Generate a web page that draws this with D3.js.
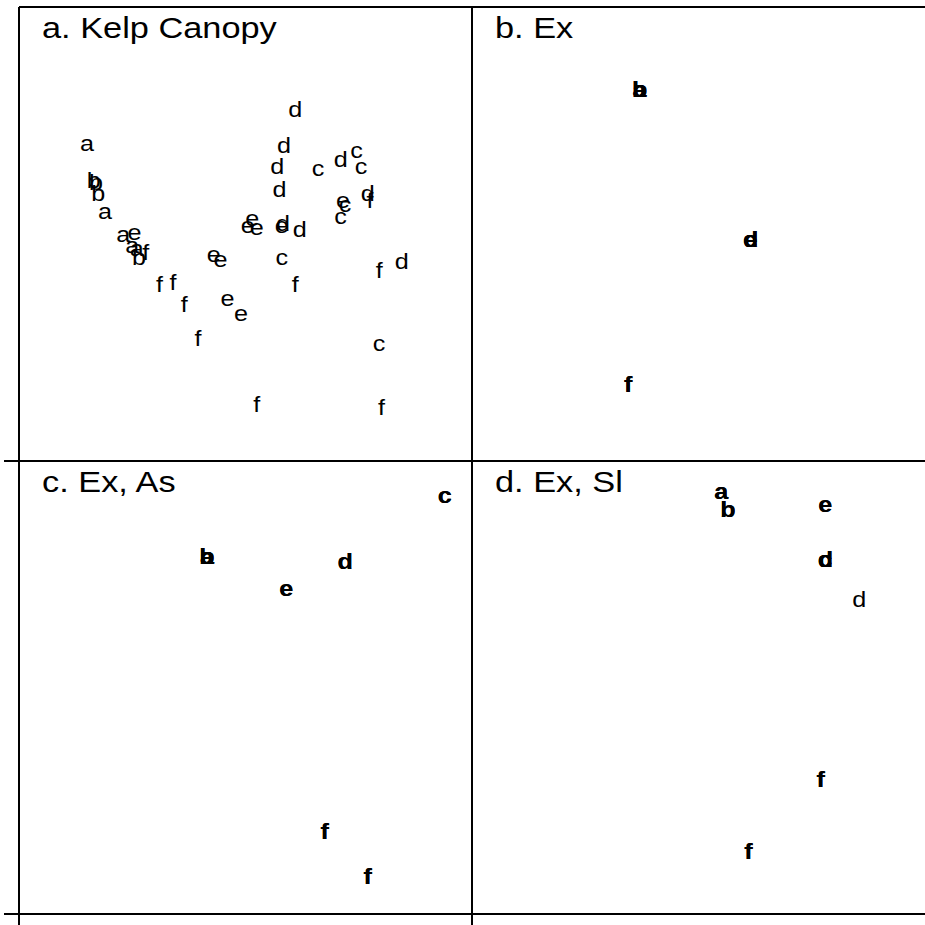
<!DOCTYPE html>
<html>
<head>
<meta charset="utf-8">
<script src="https://cdn.jsdelivr.net/npm/d3@7"></script>
<style>
  body { margin: 0; background: white; }
  svg { display: block; }
</style>
</head>
<body>
<div id="container"></div>
<script>
const width = 925;
const height = 925;

// panel titles
const panelTitles = ["a. Kelp Canopy", "b. Ex", "c. Ex, As", "d. Ex, Sl"];

// panel a: kelp canopy ordination (NMDS scores)
const kelpLabels = ["d","a","d","c","d","c","d","c","b","b","b","d","d","f","e","c","c","a",
  "e","e","e","d","e","d","a","e","a","a","f","b","e","e","c","f","d","f","f","f","f","e","e","f","c","f","f"];
const kelpX = [0.22,-0.70,0.17,0.49,0.42,0.51,0.14,0.32,-0.67,-0.66,-0.65,0.15,0.54,0.55,0.43,0.44,0.42,-0.62,
  0.03,0.01,0.05,0.165,0.16,0.24,-0.54,-0.49,-0.50,-0.48,-0.44,-0.47,-0.14,-0.11,0.16,0.59,0.69,-0.38,-0.32,0.22,-0.27,-0.08,-0.02,-0.21,0.59,0.05,0.60];
const kelpY = [0.54,0.39,0.38,0.36,0.32,0.29,0.29,0.28,0.23,0.22,0.17,0.19,0.17,0.14,0.14,0.12,0.07,0.09,
  0.06,0.03,0.02,0.04,0.03,0.01,-0.01,0.00,-0.06,-0.07,-0.09,-0.11,-0.10,-0.12,-0.11,-0.17,-0.13,-0.23,-0.22,-0.23,-0.32,-0.29,-0.36,-0.47,-0.49,-0.76,-0.77];

// panel b: exclusion
const exLabels = ["a","b","a","b","d","e","d","e","f","f"];
const exX = [-0.26,-0.26,-0.26,-0.26,0.23,0.23,0.23,0.23,-0.31,-0.31];
const exY = [0.63,0.63,0.63,0.63,-0.03,-0.03,-0.03,-0.03,-0.67,-0.67];

// panel c: exclusion + As
const exAsLabels = ["c","c","a","b","a","b","d","d","e","e","f","f","f","f"];
const exAsX = [0.88,0.88,-0.17,-0.17,-0.17,-0.17,0.44,0.44,0.18,0.18,0.35,0.35,0.54,0.54];
const exAsY = [0.84,0.84,0.57,0.57,0.57,0.57,0.55,0.55,0.43,0.43,-0.64,-0.64,-0.84,-0.84];

// panel d: exclusion + Sl
const exSlLabels = ["a","a","b","b","e","e","c","d","c","d","d","f","f","f","f"];
const exSlX = [0.10,0.10,0.13,0.13,0.56,0.56,0.56,0.56,0.56,0.56,0.71,0.54,0.54,0.22,0.22];
const exSlY = [0.86,0.86,0.78,0.78,0.80,0.80,0.56,0.56,0.56,0.56,0.38,-0.41,-0.41,-0.73,-0.73];

function toRows(labels, xs, ys){
  return labels.map(function(l, i){ return { label: l, x: xs[i], y: ys[i] }; });
}

const panels = [
  toRows(kelpLabels, kelpX, kelpY),
  toRows(exLabels, exX, exY),
  toRows(exAsLabels, exAsX, exAsY),
  toRows(exSlLabels, exSlX, exSlY)
];

// layout of the 2x2 grid
const marginLeft = 19;
const marginTop = 7;
const panelW = 453;
const panelH = 454;
// the original figure was stretched sideways a little, text included
const stretch = 1.145;

let svg = d3.select("#container")
  .append("svg")
  .attr("width", width)
  .attr("height", height)
  .style("background-color", "white");

// frame lines (they run past the corners like the original)
const vLines = [marginLeft, marginLeft + panelW];
const hLines = [marginTop + panelH, marginTop + 2 * panelH - 1];

svg.selectAll(".vline").data(vLines).enter().append("line")
  .attr("x1", d => d).attr("x2", d => d)
  .attr("y1", marginTop).attr("y2", height)
  .attr("stroke", "black").attr("stroke-width", 2);

svg.append("line")
  .attr("x1", marginLeft).attr("x2", width)
  .attr("y1", marginTop).attr("y2", marginTop)
  .attr("stroke", "black").attr("stroke-width", 2);

svg.selectAll(".hline").data(hLines).enter().append("line")
  .attr("x1", 4).attr("x2", width)
  .attr("y1", d => d).attr("y2", d => d)
  .attr("stroke", "black").attr("stroke-width", 2);

let groups = svg.selectAll(".panel").data(panels).enter().append("g")
  .attr("class", "panel")
  .attr("transform", function(d, i){
    let x = marginLeft + (i % 2) * panelW;
    let y = marginTop + Math.floor(i / 2) * panelH;
    return "translate(" + x + "," + y + ")";
  });

const xScale = d3.scaleLinear().domain([-1, 1]).range([0, panelW]);
const yScale = d3.scaleLinear().domain([-1, 1]).range([panelH, 0]);

// titles
groups.append("text")
  .attr("transform", "translate(23,31) scale(" + stretch + ",1)")
  .attr("font-family", "Liberation Sans, Arial, sans-serif")
  .attr("font-size", 30)
  .attr("fill", "black")
  .text((d, i) => panelTitles[i]);

// points drawn as their letters; stacked replicates print darker
groups.each(function(rows, i){
  let counts = d3.rollup(rows, v => v.length, d => d.label + d.x + "_" + d.y);
  d3.select(this).selectAll(".pt").data(rows).enter().append("text")
    .attr("class", "pt")
    .attr("transform", d => "translate(" + xScale(d.x) + "," + yScale(d.y) + ") scale(" + stretch + ",1)")
    .attr("dy", "0.26em")
    .attr("text-anchor", "middle")
    .attr("font-family", "Liberation Sans, Arial, sans-serif")
    .attr("font-size", 22)
    .attr("font-weight", d => counts.get(d.label + d.x + "_" + d.y) > 1 ? "bold" : "normal")
    .attr("fill", "black")
    .text(d => d.label);
});
</script>
</body>
</html>
